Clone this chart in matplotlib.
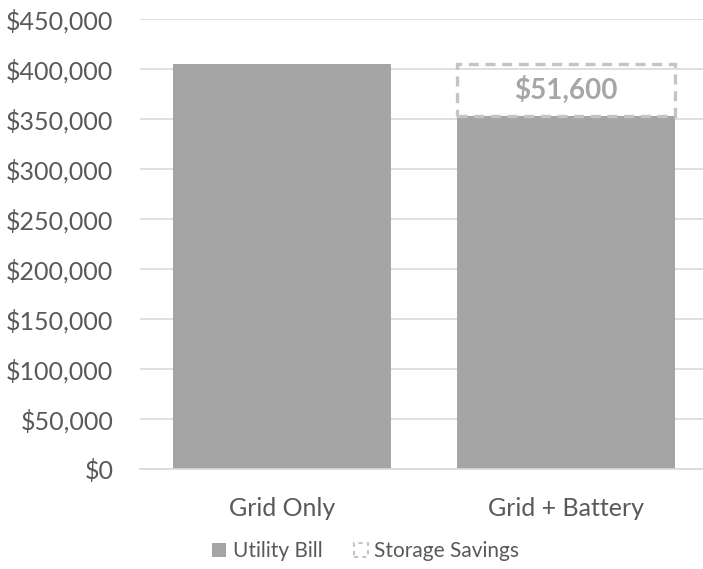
import matplotlib.pyplot as plt
from matplotlib.patches import Patch
from matplotlib.ticker import FuncFormatter

# Chart data
categories = ['Grid Only', 'Grid + Battery']
utility_bill = [405000, 353400]
storage_savings = [0, 51600]
savings_labels = ['', '$51,600']

plt.rcParams['font.family'] = ['Lato', 'DejaVu Sans']

bar_color = '#a5a5a5'
dash_color = '#c4c4c4'
text_color = '#595959'

fig = plt.figure(figsize=(7.03, 5.69), dpi=100)
ax = fig.add_axes([0.199, 0.1757, 0.808, 0.791])

x = range(len(categories))
ax.bar(x, utility_bill, width=0.77, color=bar_color, zorder=2)

# Savings drawn as dashed outline stacked on top of the bill
for i, s in enumerate(storage_savings):
    if s <= 0:
        continue
    ax.bar(i, s, width=0.77, bottom=utility_bill[i], facecolor='none',
           edgecolor=dash_color, linewidth=2.4, linestyle=(0, (3, 2)), zorder=3)
    ax.text(i, utility_bill[i] + s / 2, savings_labels[i], ha='center', va='center',
            fontsize=20, fontweight='bold', color='#a6a6a6', zorder=4)

ax.set_xlim(-0.5, 1.5)
ax.set_ylim(0, 450000)
ax.set_yticks(range(0, 450001, 50000))
ax.yaxis.set_major_formatter(FuncFormatter(lambda v, p: f'${v:,.0f}'))
ax.set_xticks(list(x))
ax.set_xticklabels(categories)

ax.grid(axis='y', color='#d9d9d9', linewidth=1.2, zorder=0)
for side in ['top', 'right', 'left']:
    ax.spines[side].set_visible(False)
ax.spines['bottom'].set_color('#d9d9d9')
ax.spines['bottom'].set_linewidth(1.2)
ax.tick_params(axis='y', length=0, labelsize=18, colors=text_color, pad=19)
ax.tick_params(axis='x', length=0, labelsize=18, colors=text_color, pad=20)

handles = [Patch(facecolor=bar_color, edgecolor='none', label='Utility Bill'),
           Patch(facecolor='none', edgecolor=dash_color, linestyle=(0, (2, 2)),
                 linewidth=1.5, label='Storage Savings')]
fig.legend(handles=handles, loc='center', bbox_to_anchor=(0.52, 0.031), ncol=2,
           frameon=False, fontsize=15, labelcolor=text_color,
           handlelength=0.7, handleheight=0.7, handletextpad=0.3, columnspacing=1.5)

fig.savefig('out.png', dpi=100)
